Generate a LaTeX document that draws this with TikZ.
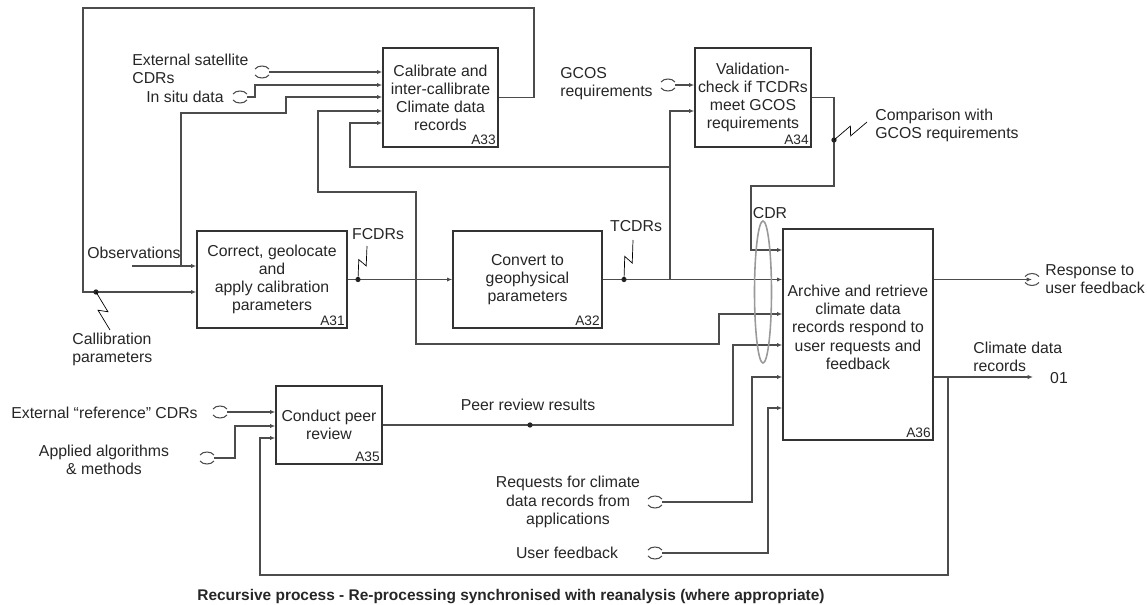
\documentclass[tikz,border=0pt]{standalone}
\usepackage{fontspec}
\setmainfont{Liberation Sans}
\usetikzlibrary{arrows.meta,calc}

\begin{document}
\begin{tikzpicture}[
		x=0.02cm, y=-0.02cm,
		>={Latex[length=3pt,width=2.4pt]},
		every node/.style={font=\fontsize{9}{10.3}\selectfont, text=black!85, inner sep=0pt},
		proc/.style={draw=black!80, line width=0.8pt, align=center},
		num/.style={font=\fontsize{7.8}{9}\selectfont, anchor=south east, inner sep=1.5pt},
		lbl/.style={align=left},
		wire/.style={draw=black!70, line width=0.6pt},
		flow/.style={wire, ->},
		jdot/.style={fill=black!85},
		squig/.style={wire, to path={-- ($(\tikztostart)!0.56!(\tikztotarget)!2.5pt!90:(\tikztotarget)$) -- ($(\tikztostart)!0.44!(\tikztotarget)!2.5pt!-90:(\tikztotarget)$) -- (\tikztotarget)}},
		tunnel/.pic={\draw[black!70, line width=0.6pt] (-7,-3) .. controls (-4,-7) and (4,-7) .. (7,-3) (-7,3) .. controls (-4,7) and (4,7) .. (7,3);},
	]
		\useasboundingbox (0,0) rectangle (1147,605);

		\node[proc, minimum width=2.3cm, minimum height=1.98cm] (a33) at (440.5,97.5) {Calibrate and\\inter-callibrate\\Climate data\\records};
		\node[num] (a33n) at (a33.south east) {A33};
		\node[proc, minimum width=2.32cm, minimum height=1.98cm] (a34) at (753,97.5) {Validation-\\check if TCDRs\\meet GCOS\\requirements};
		\node[num] (a34n) at (a34.south east) {A34};
		\node[proc, minimum width=3cm, minimum height=1.94cm] (a31) at (272,279.5) {Correct, geolocate\\and\\apply calibration\\parameters};
		\node[num] (a31n) at (a31.south east) {A31};
		\node[proc, minimum width=2.98cm, minimum height=1.94cm] (a32) at (527.5,279.5) {Convert to\\geophysical\\parameters};
		\node[num] (a32n) at (a32.south east) {A32};
		\node[proc, minimum width=3cm, minimum height=4.22cm] (a36) at (858,334.5) {Archive and retrieve\\climate data\\records respond to\\user requests and\\feedback\\[-2pt]};
		\node[num] (a36n) at (a36.south east) {A36};
		\node[proc, minimum width=2.12cm, minimum height=1.56cm] (a35) at (329,425) {Conduct peer\\review};
		\node[num] (a35n) at (a35.south east) {A35};

		\coordinate (satT) at (262,72);
		\coordinate (situT) at (240,97);
		\coordinate (gcosT) at (668,85);
		\coordinate (respT) at (1032,279.5);
		\coordinate (refT) at (220,412);
		\coordinate (algT) at (207,458);
		\coordinate (reqT) at (655,502);
		\coordinate (ufT) at (655,553);
		\foreach \t in {satT,situT,gcosT,respT,refT,algT,reqT,ufT}
			\pic at (\t) {tunnel};

		\node[lbl, anchor=west] (satL) at (132,69) {External satellite\\CDRs};
		\node[anchor=east] (situL) at (224,97) {In situ data};
		\node[lbl, anchor=west] (gcosL) at (560,84) {GCOS\\requirements};
		\node[anchor=west] (obsL) at (87,253) {Observations};
		\node[lbl, anchor=west] (calL) at (72,349) {Callibration\\parameters};
		\node (fcdrL) at (378,234) {FCDRs};
		\node (tcdrL) at (636,226) {TCDRs};
		\node (cdrL) at (770,213) {CDR};
		\node[lbl, anchor=west] (cmpL) at (875,125) {Comparison with\\GCOS requirements};
		\node[lbl, anchor=west] (respL) at (1045,279) {Response to\\user feedback};
		\node[lbl, anchor=west] (cdrecL) at (973,357) {Climate data\\records};
		\node (outL) at (1059,378) {01};
		\node (peerL) at (528,405) {Peer review results};
		\node[anchor=east] (refL) at (198,413) {External “reference” CDRs};
		\node[align=center] (algL) at (104,460) {Applied algorithms\\\& methods};
		\node[align=center] (reqL) at (568,502) {Requests for climate\\data records from\\applications};
		\node (ufL) at (567,553) {User feedback};
		\node[font=\fontsize{8.8}{10}\selectfont\bfseries] (title) at (511,597) {Recursive process - Re-processing synchronised with reanalysis (where appropriate)};

		\draw[flow] ([xshift=4pt]satT) -- (a33.west |- satT);
		\draw[flow] ([xshift=4pt]situT) -| (255,85) -- (a33.west |- 0,85);
		\coordinate (obs) at (132,266);
		\coordinate (obsfork) at (181,266);
		\draw[flow] (obs) -- (a31.west |- obs);
		\draw[flow] (obsfork) |- (286,113) |- (a33.west |- 0,97);
		\draw[flow] (a33.east) -| (534,8) -| (83,292) -- (a31.west |- 0,292);
		\draw[wire, <->] (a33.west |- 0,111) -| (318,192) -| (416,344) -| (719,314) -- (a36.west |- 0,314);

		\draw[flow] (a31.east) -- (a32.west);
		\draw[flow] (a32.east) -- (a36.west |- a32.east);
		\coordinate (tfork) at (670,279.5);
		\coordinate (tfork2) at (670,167);
		\draw[flow] (tfork) |- (a34.west |- 0,111);
		\draw[flow] (tfork2) -| (350,123) -- (a33.west |- 0,123);
		\draw[flow] ([xshift=4pt]gcosT) -- (a34.west |- gcosT);
		\draw[flow] (a34.east) -| (834,186) -| (751,250) -- (a36.west |- 0,250);

		\draw[flow] (a36.east |- respT) -- (respT);
		\coordinate (outEnd) at (1033,377);
		\coordinate (recfork) at (948,377);
		\draw[flow] (a36.east |- outEnd) -- (outEnd);
		\draw[flow] (recfork) |- (260,575) |- (a35.west |- 0,438);

		\draw[flow] (a35.east) -| (733,345) -- (a36.west |- 0,345);
		\draw[flow] ([xshift=4pt]reqT) -| (752,377) -- (a36.west |- 0,377);
		\draw[flow] ([xshift=4pt]ufT) -| (768,408) -- (a36.west |- 0,408);
		\draw[flow] ([xshift=4pt]refT) -- (a35.west |- refT);
		\draw[flow] ([xshift=4pt]algT) -| (235,426) -- (a35.west |- 0,426);

		\coordinate (caldot) at (96,292);
		\coordinate (fcdrdot) at (358,279.5);
		\coordinate (tcdrdot) at (624,279.5);
		\coordinate (cmpdot) at (834,140);
		\coordinate (peerdot) at (530,425);
		\foreach \d in {caldot,fcdrdot,tcdrdot,cmpdot,peerdot}
			\fill[jdot] (\d) circle[radius=1.5pt];
		\coordinate (calend) at (110,330);
		\coordinate (fcdrend) at (367,246);
		\coordinate (tcdrend) at (633,240);
		\coordinate (cmpend) at (867,122);
		\draw (caldot) to[squig] (calend);
		\draw (fcdrdot) to[squig] (fcdrend);
		\draw (tcdrdot) to[squig] (tcdrend);
		\draw (cmpdot) to[squig] (cmpend);

		\draw[black!40, line width=0.9pt] (763,292) ellipse[x radius=8.5, y radius=71];
	\end{tikzpicture}
\end{document}
